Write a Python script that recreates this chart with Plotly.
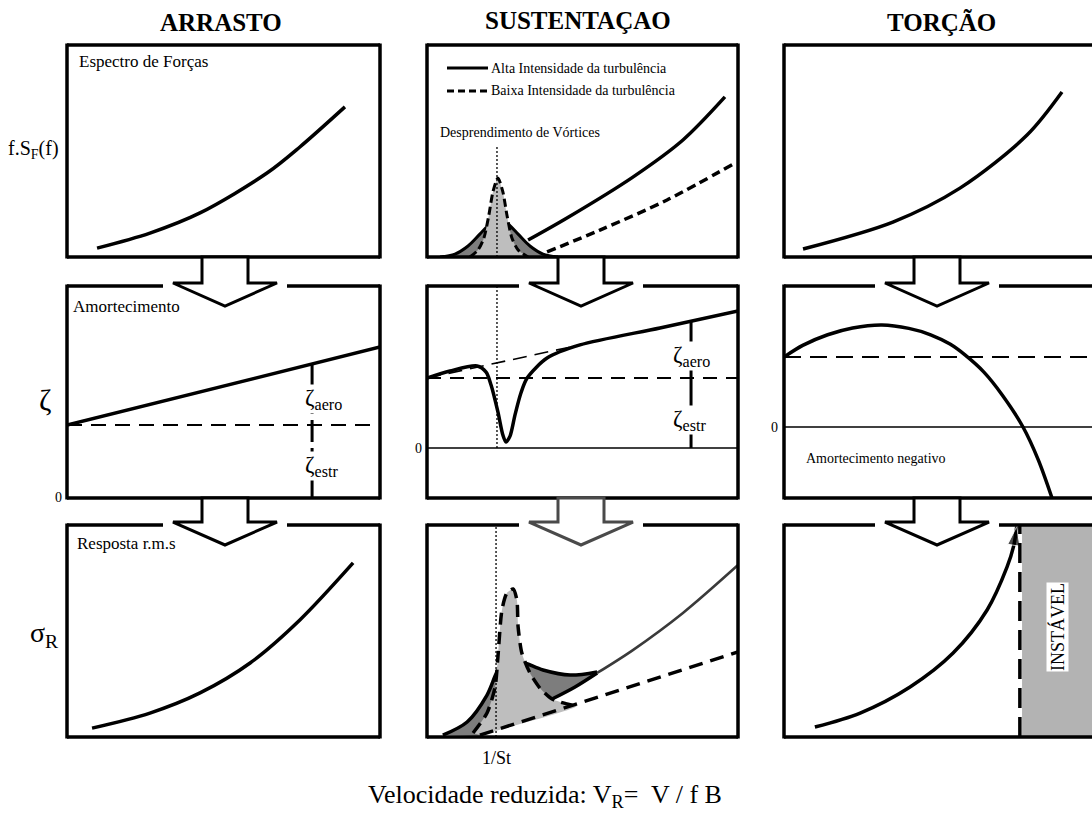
import plotly.graph_objects as go

FIG_W, FIG_H = 1092, 820
SERIF = "Liberation Serif, Times New Roman, serif"

# ---------------- text ----------------
col_titles = ["ARRASTO", "SUSTENTAÇAO", "TORÇÃO"]
row_labels = ["f.S<sub>F</sub>(f)", "ζ", "σ<sub>R</sub>"]
x_title = "Velocidade reduzida: V<sub>R</sub>=\u00a0 V / f B"
legend_names = ["Alta Intensidade da turbulência", "Baixa Intensidade da turbulência"]

# ---------------- data (panel units 0-100) ----------------
# row 1 : force spectra
drag_spec_x = [9.6, 26.5, 42.5, 63.9, 74.4, 88.8]
drag_spec_y = [4.2, 11.3, 20.8, 39.6, 51.9, 70.8]

lift_high_x = [32.5, 45.0, 66.2, 82.3, 95.8]
lift_high_y = [8.0, 18.4, 37.7, 55.2, 75.5]
lift_low_x = [38.6, 55.6, 77.2, 99.0]
lift_low_y = [2.4, 12.7, 26.9, 44.3]
lift_vs_high_x = [4.2, 9.0, 13.2, 17.0, 20.3, 22.8, 26.0, 29.3, 33.1, 37.3, 42.1]
lift_vs_high_y = [0, 1.4, 5.2, 10.8, 15.6, 17.5, 15.6, 10.8, 5.2, 1.4, 0]
lift_vs_low_x = [13.8, 16.4, 18.3, 19.9, 21.2, 22.8, 24.4, 25.7, 27.3, 29.3, 32.5]
lift_vs_low_y = [0, 3.3, 9.0, 19.8, 30.7, 37.3, 30.7, 19.8, 9.0, 3.3, 0]
strouhal_x_top = 22.5
strouhal_top_y = 51.9

tors_spec_x = [6.1, 34.9, 56.4, 77.9, 89.1]
tors_spec_y = [3.8, 16.5, 32.5, 57.5, 77.8]

# row 2 : damping
drag_damp_x = [0, 100]
drag_damp_y = [34.4, 71.2]
drag_struct = 34.4
drag_split_x = 78.3
drag_split_top = 63.2

lift_damp_x = [0, 7.4, 16.1, 19.0, 20.6, 22.8, 24.4, 25.4, 26.7, 28.3, 30.2, 32.2, 38.6, 49.2, 74.9, 100]
lift_damp_y = [56.6, 59.9, 62.3, 59.4, 53.3, 40.6, 29.7, 26.4, 29.2, 39.2, 49.5, 56.6, 66.0, 72.2, 80.2, 88.2]
lift_trend_x = [0, 49.2]
lift_trend_y = [56.6, 72.2]
lift_struct = 56.6
lift_zero = 23.6
lift_split_x = 84.9
lift_split_top = 83.4
strouhal_x_mid = 22.5

tors_damp_x = [0, 6, 14, 22, 31.4, 40, 47, 53.2, 58, 64, 70, 76.6, 81.5, 85.9]
tors_damp_y = [66.5, 72.0, 77.0, 80.2, 81.6, 80.0, 77.0, 72.6, 67.5, 59.5, 48.5, 33.5, 18.0, 0]
tors_struct = 66.5
tors_zero = 33.5

# row 3 : rms response
drag_resp_x = [8.0, 26.5, 42.5, 58.5, 74.4, 91.4]
drag_resp_y = [4.2, 11.3, 20.8, 34.9, 55.2, 82.1]

lift_resp_hump_x = [5.1, 12.9, 19.3, 22.5, 25.1, 30.5, 37.3, 46.0, 54.7]
lift_resp_hump_y = [0.9, 7.1, 19.8, 30.7, 36.3, 35.4, 31.6, 29.2, 30.7]
lift_resp_base_x = [40.2, 47.6, 54.7]
lift_resp_base_y = [17.9, 23.6, 30.2]
lift_resp_high_x = [54.7, 66.2, 82.3, 100]
lift_resp_high_y = [30.2, 41.0, 58.5, 81.1]
lift_resp_spike_x = [14.8, 19.3, 21.9, 22.8, 24.1, 25.7, 27.7, 28.9, 29.3, 30.5, 33.1, 36.3, 40.2, 45.0, 48.2]
lift_resp_spike_y = [1.9, 11.3, 23.6, 37.7, 59.9, 67.9, 69.8, 64.6, 51.9, 39.6, 30.2, 23.1, 17.9, 15.6, 14.6]
lift_resp_low_x = [17.0, 100]
lift_resp_low_y = [0.9, 40.1]
strouhal_x_bot = 22.2

tors_resp_x = [9.9, 24.4, 40.4, 54.2, 65.1, 71.5, 73.6, 74.6]
tors_resp_y = [4.7, 11.3, 23.6, 39.6, 59.9, 80.2, 90.0, 99.3]
tors_flutter_x = 75.6

# ---------------- layout geometry (pixels) ----------------
COL_L = [67, 427, 784]
COL_W = [313, 311, 312]
ROW_T = [45, 286, 525]
ROW_H = 212
ARROW_CX = [225, 581, 937]

DARK = "#7d7d7d"
LIGHT = "#bebebe"


def px(x, y):
    return x / FIG_W, 1 - y / FIG_H


fig = go.Figure()
layout_axes = {}
for r in range(3):
    for c in range(3):
        k = r * 3 + c + 1
        L, w = COL_L[c], COL_W[c]
        R = min(L + w, FIG_W)
        T = ROW_T[r]
        B = T + ROW_H
        xn = "xaxis" if k == 1 else f"xaxis{k}"
        yn = "yaxis" if k == 1 else f"yaxis{k}"
        layout_axes[xn] = dict(domain=[L / FIG_W, R / FIG_W], range=[0, 100 * (R - L) / w],
                               visible=False, fixedrange=True, anchor="y" if k == 1 else f"y{k}")
        layout_axes[yn] = dict(domain=[1 - B / FIG_H, 1 - T / FIG_H], range=[0, 100],
                               visible=False, fixedrange=True, anchor="x" if k == 1 else f"x{k}")


def ax(k):
    return ("x", "y") if k == 1 else (f"x{k}", f"y{k}")


def line(k, x, y, width=3.5, color="black", dash="solid", spline=True, smooth=0.9, **kw):
    xa, ya = ax(k)
    fig.add_trace(go.Scatter(x=x, y=y, xaxis=xa, yaxis=ya, mode="lines",
                             line=dict(width=width, color=color, dash=dash,
                                       shape="spline" if spline else "linear", smoothing=smooth),
                             hoverinfo="skip", **kw))


def area(k, x, y, fill, outline_width=0, outline="black", dash="solid", smooth=0.9):
    xa, ya = ax(k)
    fig.add_trace(go.Scatter(x=x, y=y, xaxis=xa, yaxis=ya, mode="lines", fill="toself",
                             fillcolor=fill,
                             line=dict(width=outline_width, color=outline, dash=dash,
                                       shape="spline", smoothing=smooth),
                             hoverinfo="skip"))


# ---- row 1 ----
line(1, drag_spec_x, drag_spec_y)
area(2, lift_vs_high_x, lift_vs_high_y, DARK, 3, "black")
area(2, lift_vs_low_x, lift_vs_low_y, LIGHT, 3, "black", "8px,4px", smooth=0.7)
line(2, lift_high_x, lift_high_y, name=legend_names[0])
line(2, lift_low_x, lift_low_y, dash="9px,5px", name=legend_names[1])
line(2, [strouhal_x_top, strouhal_x_top], [0, strouhal_top_y], width=1.3, dash="2px,2px", spline=False)
line(3, tors_spec_x, tors_spec_y)

# ---- row 2 ----
line(4, [0, 100], [drag_struct, drag_struct], width=2, dash="15px,9px", spline=False)
line(4, drag_damp_x, drag_damp_y, spline=False)
line(4, [drag_split_x, drag_split_x], [0, drag_split_top], width=3, dash="22px,6px", spline=False)

line(5, [0, 100], [lift_zero, lift_zero], width=1.5, spline=False)
line(5, [0, 100], [lift_struct, lift_struct], width=2, dash="14px,9px", spline=False)
line(5, lift_trend_x, lift_trend_y, width=1.6, dash="14px,8px", spline=False)
line(5, [strouhal_x_mid, strouhal_x_mid], [lift_zero, 100], width=1.3, dash="2px,2px", spline=False)
line(5, [lift_split_x, lift_split_x], [lift_zero, lift_split_top], width=3, spline=False)
line(5, lift_damp_x, lift_damp_y, smooth=0.8)

line(6, [0, 100], [tors_struct, tors_struct], width=2.2, dash="17px,9px", spline=False)
line(6, [0, 100], [tors_zero, tors_zero], width=1.5, spline=False)
line(6, tors_damp_x, tors_damp_y)

# ---- row 3 ----
line(7, drag_resp_x, drag_resp_y)

area(8, lift_resp_hump_x + lift_resp_base_x[::-1] + [29.9, 17.0],
     lift_resp_hump_y + lift_resp_base_y[::-1] + [11.8, 0.5], DARK)
line(8, lift_resp_hump_x, lift_resp_hump_y)
line(8, lift_resp_base_x, lift_resp_base_y)
area(8, lift_resp_spike_x + [lift_resp_low_x[0]], lift_resp_spike_y + [lift_resp_low_y[0]], LIGHT,
     smooth=0.7)
line(8, lift_resp_high_x, lift_resp_high_y, width=2.6, color="#3a3a3a")
line(8, lift_resp_spike_x, lift_resp_spike_y, dash="12px,7px", smooth=0.7)
line(8, lift_resp_low_x, lift_resp_low_y, dash="14px,8px", spline=False)
line(8, [strouhal_x_bot, strouhal_x_bot], [0, 100], width=1.3, dash="2px,2px", spline=False)

xa, ya = ax(9)
fig.add_trace(go.Scatter(x=tors_resp_x, y=tors_resp_y, xaxis=xa, yaxis=ya, mode="lines+markers",
                         line=dict(width=3.5, color="black", shape="spline", smoothing=0.9),
                         marker=dict(symbol="arrow", angleref="previous", color="black",
                                     size=[0] * (len(tors_resp_x) - 1) + [20]),
                         cliponaxis=False, hoverinfo="skip"))
line(9, [tors_flutter_x, tors_flutter_x], [0, 100], width=3.5, dash="20px,9px", spline=False)

# ---------------- shapes: panel frames, arrows, unstable zone ----------------
shapes = []
shapes.append(dict(type="rect", xref="x9", yref="y9", x0=tors_flutter_x + 0.7, x1=100, y0=0, y1=100,
                   fillcolor="#b3b3b3", line=dict(width=0), layer="below"))


def seg(x0, y0, x1, y1, width=3.5, color="black", dash=None):
    a = px(x0, y0)
    b = px(x1, y1)
    d = dict(type="line", xref="paper", yref="paper", x0=a[0], y0=a[1], x1=b[0], y1=b[1],
             line=dict(width=width, color=color))
    if dash:
        d["line"]["dash"] = dash
    shapes.append(d)


for r in range(3):
    for c in range(3):
        L = COL_L[c]
        R = L + COL_W[c]
        T = ROW_T[r]
        B = T + ROW_H
        seg(L, T - 1.5, L, B + 1.5)
        seg(R, T - 1.5, R, B + 1.5)
        seg(L, B, R, B)
        if r == 0:
            seg(L, T, R, T)
        else:
            cx = ARROW_CX[c]
            seg(L, T, cx - 62, T)
            seg(cx + 62, T, R, T)

for r in range(2):
    for c in range(3):
        cx = ARROW_CX[c]
        ytop = ROW_T[r] + ROW_H
        yh = ROW_T[r + 1] - 3
        ytip = yh + 23
        pts = [(cx - 23, ytop), (cx - 23, yh), (cx - 52, yh), (cx, ytip),
               (cx + 52, yh), (cx + 23, yh), (cx + 23, ytop)]
        path = "M " + " L ".join(f"{px(a, b)[0]:.5f},{px(a, b)[1]:.5f}" for a, b in pts) + " Z"
        col = "#4a4a4a" if (r == 1 and c == 1) else "black"
        shapes.append(dict(type="path", xref="paper", yref="paper", path=path,
                           fillcolor="white", line=dict(width=3, color=col)))

# legend samples in lift spectrum panel
seg(447, 68, 488, 68, width=3)
seg(447, 91, 488, 91, width=3, dash="7px,4px")

# ---------------- annotations ----------------
anns = []


def text(x, y, s, size, xanchor="left", yanchor="middle", bold=False, bg=None, angle=0):
    p = px(x, y)
    d = dict(x=p[0], y=p[1], xref="paper", yref="paper", text=f"<b>{s}</b>" if bold else s,
             showarrow=False, xanchor=xanchor, yanchor=yanchor, textangle=angle,
             font=dict(family=SERIF, size=size, color="black"), borderpad=0)
    if bg:
        d["bgcolor"] = bg
    anns.append(d)


text(221, 22, col_titles[0], 25, "center", bold=True)
text(578, 20, col_titles[1], 25, "center", bold=True)
text(941, 22, col_titles[2], 25, "center", bold=True)

text(7, 150, row_labels[0], 20)
text(45, 399, row_labels[1], 30, "center")
text(29, 634, row_labels[2], 28)

text(78, 62, "Espectro de Forças", 17)
text(490, 69, legend_names[0], 14)
text(490, 91, legend_names[1], 14)
text(439, 132, "Desprendimento de Vórtices", 14)

text(72, 306, "Amortecimento", 17)
text(63, 497, "0", 14, "right")
text(304, 399, "ζ<sub>aero</sub>", 23, bg="white")
text(304, 466, "ζ<sub>estr</sub>", 23, bg="white")

text(423, 448, "0", 14, "right")
text(672, 356, "ζ<sub>aero</sub>", 23, bg="white")
text(672, 420, "ζ<sub>estr</sub>", 23, bg="white")

text(779, 427, "0", 14, "right")
text(805, 458, "Amortecimento negativo", 14)

text(76, 543, "Resposta r.m.s", 17)
text(496, 758, "1/St", 18, "center")
text(1057, 627, "INSTÁVEL", 18, "center", bg="white", angle=-90)

text(545, 796, x_title, 26, "center")

fig.update_layout(width=FIG_W, height=FIG_H, margin=dict(l=0, r=0, t=0, b=0),
                  paper_bgcolor="white", plot_bgcolor="white", showlegend=False,
                  shapes=shapes, annotations=anns, **layout_axes)

fig.write_html("out.html", config={"displayModeBar": False, "staticPlot": True},
               post_script="document.body.style.margin='0px';document.body.style.overflow='hidden';")
